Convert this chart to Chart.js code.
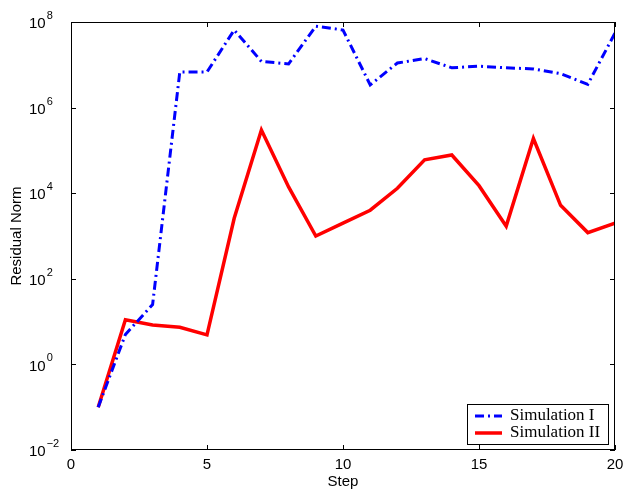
<!DOCTYPE html>
<html>
<head>
<meta charset="utf-8">
<script src="https://cdn.jsdelivr.net/npm/chart.js@4"></script>
<style>
  html, body { margin: 0; padding: 0; background: #fff; }
  #wrap { width: 624px; height: 493px; }
</style>
</head>
<body>
<div id="wrap"><canvas id="grafica"></canvas></div>
<script>
const pasos = [1, 2, 3, 4, 5, 6, 7, 8, 9, 10, 11, 12, 13, 14, 15, 16, 17, 18, 19, 20];
const simulacion1 = [0.1, 5, 25, 6.8e6, 6.8e6, 6.5e7, 1.2e7, 1.05e7, 8e7, 6.5e7,
  3.4e6, 1.1e7, 1.4e7, 8.5e6, 9.3e6, 8.5e6, 8e6, 6.2e6, 3.5e6, 5.5e7];
const simulacion2 = [0.1, 11, 8.3, 7.4, 4.9, 2.6e3, 3e5, 1.4e4, 1e3, 2e3,
  4e3, 1.3e4, 6e4, 7.8e4, 1.5e4, 1.7e3, 1.9e5, 5.2e3, 1.2e3, 2e3];
const xTicks = [0, 5, 10, 15, 20];
const yExponentes = [-2, 0, 2, 4, 6, 8];

const sans = '"Liberation Sans", Arial, sans-serif';
const serif = '"Liberation Serif", "Times New Roman", serif';

// ejes, etiquetas y leyenda al estilo MATLAB
const ejesMatlab = {
  id: 'ejesMatlab',
  afterDraw(chart) {
    const ctx = chart.ctx;
    const a = chart.chartArea;
    const xs = chart.scales.x, ys = chart.scales.y;
    ctx.save();
    ctx.strokeStyle = '#000';
    ctx.lineWidth = 1;
    ctx.strokeRect(a.left + 0.5, a.top + 0.5, a.right - a.left - 1, a.bottom - a.top - 1);
    // ticks hacia dentro
    ctx.beginPath();
    xTicks.forEach(v => {
      const px = Math.round(xs.getPixelForValue(v)) + 0.5;
      ctx.moveTo(px, a.bottom); ctx.lineTo(px, a.bottom - 5);
      ctx.moveTo(px, a.top); ctx.lineTo(px, a.top + 5);
    });
    yExponentes.forEach(e => {
      const py = Math.round(ys.getPixelForValue(Math.pow(10, e))) + 0.5;
      ctx.moveTo(a.left, py); ctx.lineTo(a.left + 5, py);
      ctx.moveTo(a.right, py); ctx.lineTo(a.right - 5, py);
    });
    ctx.stroke();

    // etiquetas del eje y con exponente
    ctx.fillStyle = '#000';
    ctx.textBaseline = 'middle';
    ctx.textAlign = 'left';
    yExponentes.forEach(e => {
      const py = ys.getPixelForValue(Math.pow(10, e));
      ctx.font = '15px ' + sans;
      ctx.fillText('10', 29, py + 2);
      const w = ctx.measureText('10').width;
      ctx.font = '11px ' + sans;
      ctx.fillText(e < 0 ? '\u2212' + (-e) : String(e), 29 + w + 1, py - 6);
    });

    // títulos de los ejes
    ctx.font = '15px ' + sans;
    ctx.textAlign = 'center';
    ctx.fillText('Step', (a.left + a.right) / 2, 482);
    ctx.save();
    ctx.translate(17, (a.top + a.bottom) / 2);
    ctx.rotate(-Math.PI / 2);
    ctx.fillText('Residual Norm', 0, 0);
    ctx.restore();

    // leyenda
    const lx = 467, ly = 404, lw = 141, lh = 40;
    ctx.fillStyle = '#fff';
    ctx.fillRect(lx, ly, lw, lh);
    ctx.strokeRect(lx + 0.5, ly + 0.5, lw, lh);
    chart.data.datasets.forEach((ds, i) => {
      const cy = ly + 12 + i * 17;
      ctx.beginPath();
      ctx.strokeStyle = ds.borderColor;
      ctx.lineWidth = ds.borderWidth;
      ctx.setLineDash(ds.borderDash || []);
      ctx.moveTo(475, cy); ctx.lineTo(502, cy);
      ctx.stroke();
      ctx.setLineDash([]);
      ctx.fillStyle = '#000';
      ctx.font = '17px ' + serif;
      ctx.textAlign = 'left';
      ctx.fillText(ds.label, 510, cy);
    });
    ctx.restore();
  }
};

new Chart(document.getElementById('grafica'), {
  type: 'line',
  data: {
    labels: pasos,
    datasets: [
      {
        label: 'Simulation I',
        data: pasos.map((p, i) => ({ x: p, y: simulacion1[i] })),
        borderColor: '#0000ff',
        borderWidth: 3,
        borderDash: [9, 4, 2, 4],
        pointRadius: 0,
        tension: 0,
        fill: false
      },
      {
        label: 'Simulation II',
        data: pasos.map((p, i) => ({ x: p, y: simulacion2[i] })),
        borderColor: '#ff0000',
        borderWidth: 3.5,
        pointRadius: 0,
        tension: 0,
        fill: false
      }
    ]
  },
  options: {
    responsive: true,
    maintainAspectRatio: false,
    animation: false,
    layout: { padding: { top: 22, right: 9, left: 0, bottom: 0 } },
    plugins: {
      legend: { display: false },
      tooltip: { enabled: false }
    },
    scales: {
      x: {
        type: 'linear',
        min: 0,
        max: 20,
        grid: { display: false },
        border: { display: false },
        ticks: {
          stepSize: 5,
          color: '#000',
          font: { family: sans, size: 15 },
          padding: -2,
          maxRotation: 0
        },
        afterFit(scale) { scale.height = 43; }
      },
      y: {
        type: 'logarithmic',
        min: 0.01,
        max: 1e8,
        grid: { display: false },
        border: { display: false },
        ticks: { display: false },
        afterFit(scale) { scale.width = 71; }
      }
    }
  },
  plugins: [ejesMatlab]
});
</script>
</body>
</html>
